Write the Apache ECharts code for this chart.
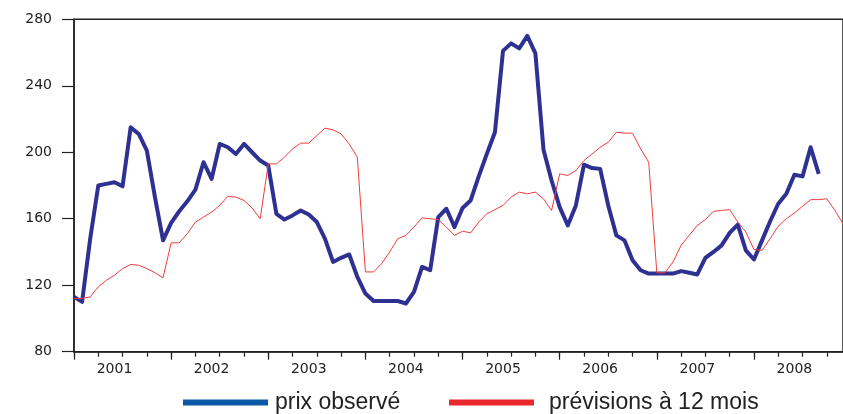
<!DOCTYPE html>
<html><head><meta charset="utf-8">
<script src="https://cdn.jsdelivr.net/npm/echarts@6/dist/echarts.min.js"></script>
<style>html,body{margin:0;padding:0;background:#fff}#c{width:843px;height:414px}</style>
</head><body><div id="c"></div>
<script>
const years = [2001, 2002, 2003, 2004, 2005, 2006, 2007, 2008];
const monthsPerYear = 12;
const yTicks = [80, 120, 160, 200, 240, 280];
const seriesNames = ['prix observé', 'prévisions à 12 mois'];

// prix observé (monthly, Jan 2001 - Sep 2008)
const prixObserve = [
  113, 110, 148, 180, 181, 182, 179.5, 215, 211, 201, 173, 147,
  157.5, 164.5, 170.5, 177.5, 194, 184, 205, 203, 199, 205, 200, 195,
  192, 163, 159.5, 162, 165, 162.5, 158, 148, 134, 136.5, 138.5, 125,
  115, 110.5, 110.5, 110.5, 110.5, 109, 116, 131, 129, 161, 166, 155,
  166.5, 171, 185.5, 199, 212, 261, 265.5, 262.5, 270, 259.5, 201.5, 183,
  167, 156, 168, 192.5, 190.5, 190, 168, 150, 147, 135, 129, 127,
  127, 127, 127, 128.5, 127.5, 126.5, 136.5, 140, 144, 151.5, 156.5, 141,
  135.5, 147, 158.5, 169, 175, 186.5, 185.5, 203, 187
];

// prévisions à 12 mois (monthly, Jan 2001 - Dec 2008)
const previsions = [
  112, 112, 113, 119, 123, 126, 130, 132.5, 132, 130, 127.5, 124.5,
  145.5, 145.5, 151, 158, 161, 164, 168, 173.5, 173, 171, 166.5, 160,
  193, 193, 197, 202, 205.5, 205.5, 210, 214.5, 213.5, 211, 205, 197,
  128, 128, 133, 140, 148, 150, 155, 160.5, 160, 159.5, 155, 150,
  152.5, 151.5, 158, 163, 165.5, 168, 173, 176, 175, 176, 172, 165,
  187, 186, 189, 195, 199, 203, 206, 212, 211.5, 211.5, 202, 194,
  127.5, 127.5, 134, 144, 150, 156, 159.5, 164.5, 165, 165.5, 158, 152,
  141.5, 141, 148, 155.5, 160, 163.5, 167.5, 171.5, 171.5, 172, 165, 157
];

const categories = [];
years.forEach(y => { for (let m = 1; m <= monthsPerYear; m++) categories.push(y + '-' + (m < 10 ? '0' + m : m)); });

const chart = echarts.init(document.getElementById('c'));
const axisColor = '#222';
chart.setOption({
  animation: false,
  backgroundColor: '#fff',
  grid: { left: 74, right: -2.4, top: 19.3, bottom: 62.3, show: true, borderColor: axisColor, borderWidth: 1.5 },
  legend: [
    { data: [{ name: seriesNames[0], icon: 'rect', itemStyle: { color: '#0b58a6', borderWidth: 0 } }],
      left: 178, top: 386, itemWidth: 85, itemHeight: 6,
      textStyle: { fontFamily: 'Liberation Sans', fontSize: 23, color: '#222', padding: [0, 0, 0, 2] } },
    { data: [{ name: seriesNames[1], icon: 'rect', itemStyle: { color: '#e8282c', borderWidth: 0 } }],
      left: 444, top: 386, itemWidth: 85, itemHeight: 6,
      textStyle: { fontFamily: 'Liberation Sans', fontSize: 23, color: '#222', padding: [0, 0, 0, 10] } }
  ],
  xAxis: [
    { type: 'category', data: categories, boundaryGap: false, position: 'bottom',
      axisLine: { show: true, lineStyle: { color: axisColor, width: 1.5 } },
      axisTick: { show: true, length: 5, interval: (i) => i % 3 === 0, lineStyle: { color: axisColor, width: 1.2 } },
      axisLabel: { show: true, interval: (i) => i % 12 === 5, formatter: (v) => v.slice(0, 4), margin: 11,
        fontFamily: 'DejaVu Sans', fontSize: 14, color: axisColor },
      splitLine: { show: false } },
    { type: 'category', data: categories, boundaryGap: false, position: 'bottom', gridIndex: 0,
      axisLine: { show: false },
      axisTick: { show: true, length: 8, interval: (i) => i % 12 === 0, lineStyle: { color: axisColor, width: 1.2 } },
      axisLabel: { show: false }, splitLine: { show: false } }
  ],
  yAxis: {
    type: 'value', min: yTicks[0], max: yTicks[yTicks.length - 1], interval: 40,
    axisLine: { show: true, lineStyle: { color: axisColor, width: 1.5 } },
    axisTick: { show: true, length: 12, lineStyle: { color: axisColor, width: 1.2 } },
    axisLabel: { margin: 22, fontFamily: 'DejaVu Sans', fontSize: 14, color: axisColor },
    splitLine: { show: false }
  },
  series: [
    { name: seriesNames[0], type: 'line', data: prixObserve, showSymbol: false, symbol: 'none',
      lineStyle: { color: '#2e3192', width: 4, join: 'round' }, itemStyle: { color: '#2e3192' }, z: 2 },
    { name: seriesNames[1], type: 'line', data: previsions, showSymbol: false, symbol: 'none',
      lineStyle: { color: '#f03c3c', width: 1 }, itemStyle: { color: '#f03c3c' }, z: 3 }
  ]
});
</script></body></html>
